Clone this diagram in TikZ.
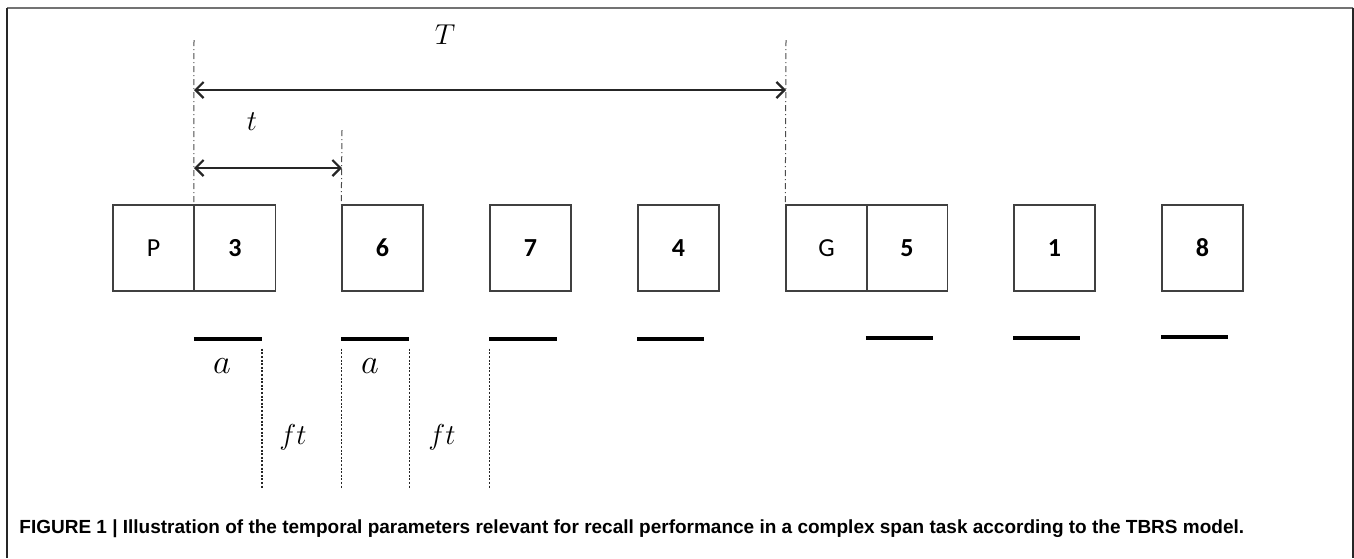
\documentclass[tikz,border=0pt]{standalone}
\usepackage{fontspec}
\setsansfont{Carlito}
\newfontfamily\capfont{Liberation Sans}
\usetikzlibrary{arrows.meta}
\begin{document}
\begin{tikzpicture}[x=0.5pt,y=-0.5pt]
	    \tikzset{>={Straight Barb[length=4pt,width=8pt]}}
	    \tikzset{slide/.style={draw=black!75,line width=0.7pt,minimum width=40.5pt,minimum height=43pt,inner sep=0pt,font=\sffamily\fontsize{13}{13}\selectfont},
	      digit/.style={slide,font=\sffamily\bfseries\fontsize{13}{13}\selectfont},
	      pause/.style={line width=2pt},
	      guide/.style={black!70,line width=0.5pt,dash pattern=on 3pt off 1.5pt on 0.5pt off 1.5pt},
	      gap/.style={black!85,line width=0.7pt,dash pattern=on 1pt off 0.8pt},
	      span/.style={<->,line width=1.1pt,black!85}}
	    \useasboundingbox (0,0) rectangle (1354,558);
	    \draw[black!55,line width=1pt] (7,7.5) -- (1353,7.5);
	    \draw[black!85,line width=1pt] (7,7.5) -- (7,558);
	    \draw[black!85,line width=1pt] (1353,7.5) -- (1353,558);
	    % slides
	    \node[slide] (P) at (153.5,248) {P};
	    \node[digit] (n3) at (235,248) {3};
	    \node[digit] (n6) at (382.5,248) {6};
	    \node[digit] (n7) at (530.5,248) {7};
	    \node[digit] (n4) at (678.5,248) {4};
	    \node[slide] (G) at (826.5,248) {G};
	    \node[digit] (n5) at (907,248) {5};
	    \node[digit] (n1) at (1054.5,248) {1};
	    \node[digit] (n8) at (1202.5,248) {8};
	    % guides
	    \coordinate (Tl) at (194,40);
	    \coordinate (Tr) at (786,40);
	    \coordinate (tr) at (342,130);
	    \draw[guide] (Tl) -- (n3.north west);
	    \draw[guide] (Tr) -- (G.north west);
	    \draw[guide] (tr) -- (n6.north west);
	    \coordinate (Ta) at (194,90);
	    \coordinate (Tb) at (786,90);
	    \coordinate (ta) at (194,168);
	    \coordinate (tb) at (342,168);
	    \draw[span] (Ta) -- (Tb);
	    \draw[span] (ta) -- (tb);
	    \node[font=\fontsize{15}{15}\selectfont] (Tlab) at (445,35) {$T$};
	    \node[font=\fontsize{15}{15}\selectfont] (tlab) at (252,122) {$t$};
	    % processing
	    \draw[pause] (n3.south west) ++(0,47) coordinate (b3s) -- ++(68,0) coordinate (b3e);
	    \draw[pause] (n6.south west) ++(0,47) coordinate (b6s) -- ++(68,0) coordinate (b6e);
	    \draw[pause] (n7.south west) ++(0,47) coordinate (b7s) -- ++(68,0) coordinate (b7e);
	    \draw[pause] (n4.south west) ++(0,47) -- ++(67,0);
	    \draw[pause] (n5.south west) ++(0,46) -- ++(67,0);
	    \draw[pause] (n1.south west) ++(0,46) -- ++(67,0);
	    \draw[pause] (n8.south west) ++(0,45) -- ++(67,0);
	    \draw[gap] (b3e) ++(0,10) -- ++(0,139);
	    \draw[gap] (b6s) ++(0,10) -- ++(0,139);
	    \draw[gap] (b6e) ++(0,10) -- ++(0,139);
	    \draw[gap] (b7s) ++(0,10) -- ++(0,139);
	    \node[font=\fontsize{17}{17}\selectfont] (a1) at (222,366) {$a$};
	    \node[font=\fontsize{17}{17}\selectfont] (a2) at (370,366) {$a$};
	    \node[font=\fontsize{15}{15}\selectfont] (f1) at (293,437) {$ft$};
	    \node[font=\fontsize{15}{15}\selectfont] (f2) at (442,437) {$ft$};
	    % caption
	    \node[anchor=west,inner sep=0pt,font=\capfont\bfseries\fontsize{9.5}{9.5}\selectfont] (cap) at (19,529) {FIGURE 1 | Illustration of the temporal parameters relevant for recall performance in a complex span task according to the TBRS model.};
	\end{tikzpicture}
\end{document}
